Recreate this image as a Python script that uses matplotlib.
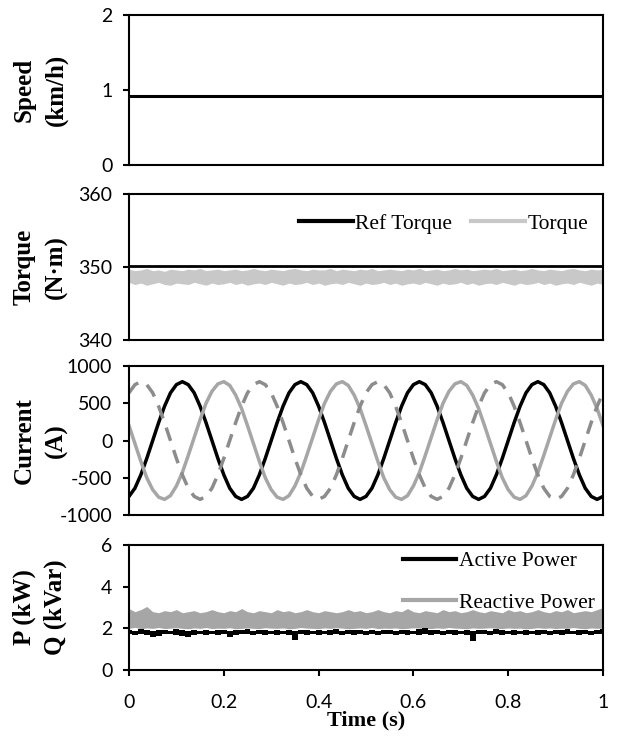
import numpy as np
import matplotlib.pyplot as plt
from matplotlib.lines import Line2D

plt.rcParams['axes.unicode_minus'] = False

# sample times (s)
t = np.linspace(0, 1, 81)
t_const = [0, 1]

speed = [0.92, 0.92]
ref_torque = [350.2, 350.2]

torque_hi = [349.7, 349.5, 349.6, 349.8, 349.5, 349.6, 349.4, 349.7, 349.6, 349.5,
             349.7, 349.6, 349.8, 349.5, 349.6, 349.7, 349.5, 349.6, 349.7, 349.5,
             349.6, 349.8, 349.6, 349.5, 349.7, 349.6, 349.5, 349.7, 349.8, 349.6,
             349.5, 349.7, 349.6, 349.6, 349.8, 349.5, 349.7, 349.6, 349.5, 349.7,
             349.6, 349.8, 349.5, 349.6, 349.7, 349.6, 349.5, 349.7, 349.6, 349.8,
             349.5, 349.6, 349.7, 349.5, 349.6, 349.8, 349.6, 349.7, 349.5, 349.6,
             349.7, 349.6, 349.8, 349.5, 349.6, 349.7, 349.5, 349.6, 349.8, 349.6,
             349.5, 349.7, 349.6, 349.5, 349.7, 349.8, 349.6, 349.5, 349.7, 349.6, 349.7]
torque_lo = [347.9, 347.6, 347.8, 347.5, 347.7, 347.9, 347.6, 347.5, 347.8, 347.7,
             347.6, 347.9, 347.7, 347.5, 347.8, 347.6, 347.7, 347.9, 347.6, 347.8,
             347.5, 347.7, 347.8, 347.6, 347.9, 347.7, 347.5, 347.8, 347.6, 347.7,
             347.9, 347.6, 347.8, 347.5, 347.7, 347.8, 347.6, 347.9, 347.7, 347.5,
             347.8, 347.6, 347.7, 347.9, 347.6, 347.8, 347.5, 347.7, 347.8, 347.6,
             347.9, 347.7, 347.5, 347.8, 347.6, 347.7, 347.9, 347.6, 347.8, 347.5,
             347.7, 347.8, 347.6, 347.9, 347.7, 347.5, 347.8, 347.6, 347.7, 347.9,
             347.6, 347.8, 347.5, 347.7, 347.8, 347.6, 347.9, 347.7, 347.5, 347.8, 347.6]

ia = [-750, -640, -460, -240, 0, 240, 460, 640, 750, 790, 750, 640, 460, 240, 0, -240, -460, -640, -750, -790,
      -750, -640, -460, -240, 0, 240, 460, 640, 750, 790, 750, 640, 460, 240, 0, -240, -460, -640, -750, -790,
      -750, -640, -460, -240, 0, 240, 460, 640, 750, 790, 750, 640, 460, 240, 0, -240, -460, -640, -750, -790,
      -750, -640, -460, -240, 0, 240, 460, 640, 750, 790, 750, 640, 460, 240, 0, -240, -460, -640, -750, -790,
      -750]
ib = [200, -40, -280, -500, -660, -760, -790, -740, -610, -430, -200, 40, 280, 500, 660, 760, 790, 740, 610, 430,
      200, -40, -280, -500, -660, -760, -790, -740, -610, -430, -200, 40, 280, 500, 660, 760, 790, 740, 610, 430,
      200, -40, -280, -500, -660, -760, -790, -740, -610, -430, -200, 40, 280, 500, 660, 760, 790, 740, 610, 430,
      200, -40, -280, -500, -660, -760, -790, -740, -610, -430, -200, 40, 280, 500, 660, 760, 790, 740, 610, 430,
      200]
ic = [640, 750, 790, 750, 640, 460, 240, 0, -240, -460, -640, -750, -790, -750, -640, -460, -240, 0, 240, 460,
      640, 750, 790, 750, 640, 460, 240, 0, -240, -460, -640, -750, -790, -750, -640, -460, -240, 0, 240, 460,
      640, 750, 790, 750, 640, 460, 240, 0, -240, -460, -640, -750, -790, -750, -640, -460, -240, 0, 240, 460,
      640, 750, 790, 750, 640, 460, 240, 0, -240, -460, -640, -750, -790, -750, -640, -460, -240, 0, 240, 460,
      640]

q_hi = [2.95, 2.8, 2.9, 3.05, 2.8, 2.75, 2.85, 2.8, 2.9, 2.75,
        2.8, 2.85, 2.75, 2.8, 2.9, 2.8, 2.75, 2.85, 2.8, 2.95,
        2.8, 2.75, 2.85, 2.8, 2.75, 2.9, 2.8, 2.85, 2.75, 2.8,
        2.9, 2.8, 2.75, 2.85, 2.8, 2.75, 2.8, 2.9, 2.8, 2.85,
        2.75, 2.8, 2.9, 2.8, 2.75, 2.85, 2.8, 2.95, 2.8, 2.75,
        2.85, 2.8, 2.75, 2.9, 2.8, 2.85, 2.75, 2.8, 2.9, 2.8,
        2.75, 2.85, 2.8, 2.75, 2.9, 2.8, 2.85, 2.75, 2.8, 2.9,
        2.8, 2.75, 2.85, 2.8, 2.9, 2.75, 2.8, 2.85, 2.8, 2.9, 3.0]
q_lo = [2.0, 2.05, 1.98, 2.02, 2.0, 2.04, 1.99, 2.01, 2.03, 2.0,
        1.98, 2.02, 2.0, 2.04, 1.99, 2.01, 2.0, 2.03, 1.98, 2.0,
        2.02, 2.0, 1.99, 2.03, 2.01, 2.0, 2.02, 1.98, 2.0, 2.04,
        2.01, 2.0, 1.99, 2.02, 2.0, 2.03, 2.01, 1.98, 2.0, 2.02,
        2.0, 2.04, 1.99, 2.01, 2.0, 2.02, 1.98, 2.0, 2.03, 2.01,
        2.0, 1.99, 2.02, 2.0, 2.04, 2.01, 2.0, 1.98, 2.02, 2.0,
        2.01, 2.03, 2.0, 1.99, 2.02, 2.0, 2.01, 1.98, 2.0, 2.03,
        2.0, 2.02, 1.99, 2.01, 2.0, 2.04, 2.0, 1.98, 2.02, 2.0, 2.01]
p_hi = [1.92, 1.88, 1.95, 1.9, 1.86, 1.93, 1.9, 1.88, 1.95, 1.9,
        1.87, 1.92, 1.89, 1.94, 1.88, 1.9, 1.93, 1.87, 1.91, 1.9,
        1.95, 1.88, 1.9, 1.92, 1.87, 1.91, 1.89, 1.94, 1.88, 1.9,
        1.92, 1.87, 1.93, 1.89, 1.9, 1.95, 1.88, 1.91, 1.9, 1.93,
        1.87, 1.92, 1.89, 1.94, 1.9, 1.88, 1.93, 1.9, 1.87, 1.95,
        2.0, 1.9, 1.92, 1.88, 1.94, 1.9, 1.87, 1.91, 1.89, 1.93,
        1.9, 1.88, 1.95, 1.9, 1.87, 1.92, 1.89, 1.94, 1.88, 1.9,
        1.93, 1.87, 1.91, 1.9, 1.95, 1.88, 1.9, 1.92, 1.87, 1.93, 1.95]
p_lo = [1.72, 1.68, 1.75, 1.7, 1.6, 1.62, 1.72, 1.74, 1.69, 1.62,
        1.58, 1.7, 1.73, 1.68, 1.74, 1.7, 1.72, 1.6, 1.66, 1.73,
        1.71, 1.68, 1.74, 1.7, 1.72, 1.69, 1.73, 1.7, 1.42, 1.72,
        1.68, 1.74, 1.7, 1.72, 1.66, 1.73, 1.7, 1.74, 1.69, 1.72,
        1.7, 1.73, 1.68, 1.74, 1.71, 1.7, 1.72, 1.69, 1.74, 1.7,
        1.72, 1.68, 1.73, 1.7, 1.74, 1.69, 1.72, 1.7, 1.4, 1.71,
        1.73, 1.68, 1.74, 1.7, 1.72, 1.66, 1.73, 1.7, 1.74, 1.69,
        1.72, 1.7, 1.73, 1.68, 1.74, 1.71, 1.7, 1.72, 1.69, 1.74, 1.72]

tick_font = 'Lato'
serif = 'Liberation Serif'
black = '#000000'
gray_light = '#c8c8c8'
gray_mid = '#a6a6a6'
gray_dark = '#8c8c8c'

fig = plt.figure(figsize=(6.19, 7.42), dpi=100)
left, width = 0.2084, 0.7658
boxes = [(0.7776, 0.2022), (0.5418, 0.1967), (0.3059, 0.2008), (0.0970, 0.1685)]
axes = [fig.add_axes([left, b, width, h]) for b, h in boxes]

for ax in axes:
    ax.set_xlim(0, 1)
    for s in ax.spines.values():
        s.set_linewidth(1.5)
    ax.tick_params(direction='out', length=4, width=1.5, labelsize=14, pad=8)

ylab = dict(fontfamily=serif, fontweight='bold', fontsize=18, linespacing=1.45)

# speed
ax = axes[0]
ax.plot(t_const, speed, color=black, lw=2.2)
ax.set_ylim(0, 2)
ax.set_yticks([0, 1, 2])
ax.set_ylabel('Speed\n(km/h)', **ylab)

# torque
ax = axes[1]
ax.fill_between(t, torque_lo, torque_hi, color=gray_light, lw=0)
ax.plot(t_const, ref_torque, color=black, lw=2.0)
ax.set_ylim(340, 360)
ax.set_yticks([340, 350, 360])
ax.set_ylabel('Torque\n(N·m)', **ylab)
h = [Line2D([], [], color=black, lw=3), Line2D([], [], color=gray_light, lw=3)]
ax.legend(h, ['Ref Torque', 'Torque'], loc='upper right', ncol=2, frameon=False,
          prop=dict(family=serif, size=15.5), handlelength=2.5, handletextpad=0.1,
          columnspacing=0.9, borderaxespad=0.3, bbox_to_anchor=(1.0, 0.97))

# current
ax = axes[2]
ax.plot(t, ia, color=black, lw=2.5)
ax.plot(t, ib, color=gray_mid, lw=2.5)
ax.plot(t, ic, color=gray_dark, lw=2.5, linestyle=(0, (4, 2.8)))
ax.set_ylim(-1000, 1000)
ax.set_yticks([-1000, -500, 0, 500, 1000])
ax.set_ylabel('Current\n(A)', **ylab)

# power
ax = axes[3]
ax.fill_between(t, q_lo, q_hi, color=gray_mid, lw=0)
ax.fill_between(t, p_lo, p_hi, step='mid', color=black, lw=0)
ax.set_ylim(0, 6)
ax.set_yticks([0, 2, 4, 6])
ax.set_xticks([0, 0.2, 0.4, 0.6, 0.8, 1])
ax.set_xticklabels(['0', '0.2', '0.4', '0.6', '0.8', '1'])
ax.tick_params(axis='x', pad=13)
ax.set_ylabel('P (kW)\nQ (kVar)', **ylab)
ax.set_xlabel('Time (s)', fontfamily=serif, fontweight='bold', fontsize=16, labelpad=0)
h = [Line2D([], [], color=black, lw=3), Line2D([], [], color=gray_mid, lw=3)]
ax.legend(h, ['Active Power', 'Reactive Power'], loc='upper right', frameon=False,
          prop=dict(family=serif, size=15.5), handlelength=2.5, handletextpad=0.1,
          labelspacing=1.0, borderaxespad=0.0, bbox_to_anchor=(1.0, 1.02))

for ax in axes[:3]:
    ax.set_xticks([])

for ax in axes:
    ax.yaxis.set_label_coords(-0.13, 0.5)
    for lab in ax.get_yticklabels() + ax.get_xticklabels():
        lab.set_fontfamily(tick_font)

fig.savefig('out.png', dpi=100)
